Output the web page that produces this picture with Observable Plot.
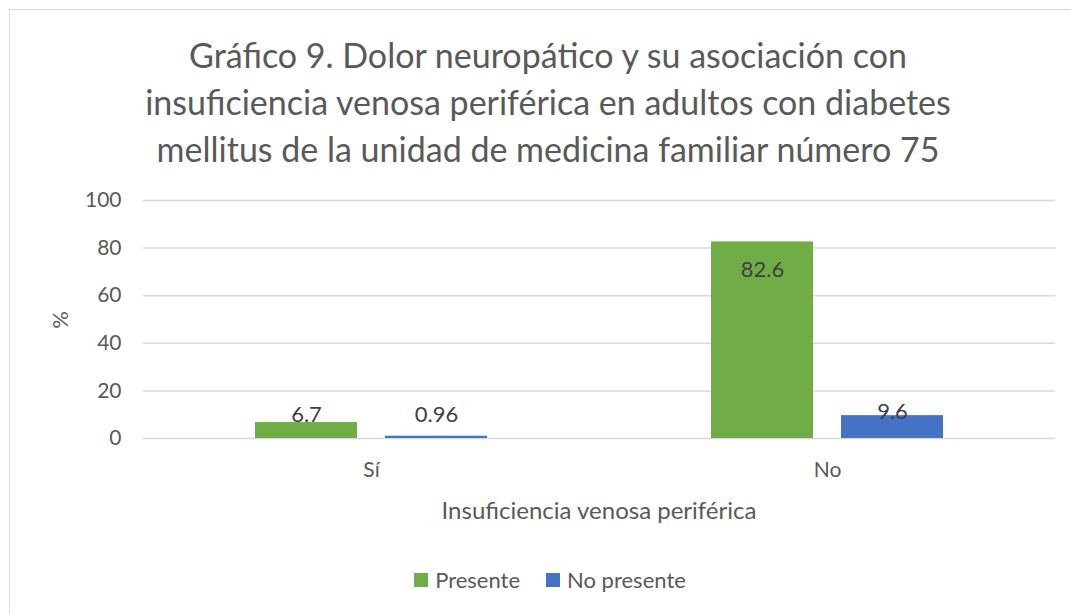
<!DOCTYPE html>
<html>
<head>
<meta charset="utf-8">
<script src="https://cdn.jsdelivr.net/npm/d3@7"></script>
<script src="https://cdn.jsdelivr.net/npm/@observablehq/plot@0.6"></script>
<style>
  html, body { margin: 0; padding: 0; background: #fff; overflow: hidden; width: 1071px; height: 614px; }
  body { font-family: Lato, "Open Sans", sans-serif; color: #595959; position: relative; }
  #frame { position: absolute; left: 9px; top: 9px; width: 1085px; height: 640px; border: 1.5px solid #d9d9d9; box-sizing: border-box; }
  #title { position: absolute; left: 0; top: 31px; width: 1096px; text-align: center; font-size: 34px; line-height: 47px; color: #595959; }
  #chart { position: absolute; left: 0; top: 180px; }
  #ylabel { position: absolute; left: 60px; top: 320px; transform: translate(-50%, -50%) rotate(-90deg); font-size: 22px; line-height: 26px; white-space: nowrap; }
  #xtitle { position: absolute; left: 142px; width: 914px; top: 495px; text-align: center; font-size: 24px; line-height: 30px; }
  #legend { position: absolute; left: 0; width: 1100px; top: 566px; display: flex; justify-content: center; font-size: 22px; line-height: 28px; }
  .item { display: inline-flex; align-items: center; margin: 0 13px; }
  .sw { width: 14px; height: 14px; display: inline-block; margin-right: 7px; }
</style>
</head>
<body>
<div id="frame"></div>
<div id="title">Gráfico 9. Dolor neuropático y su asociación con<br>insuficiencia venosa periférica en adultos con diabetes<br>mellitus de la unidad de medicina familiar número 75</div>
<div id="chart"></div>
<div id="ylabel">%</div>
<div id="xtitle">Insuficiencia venosa periférica</div>
<div id="legend"></div>
<script>
const categories = ["Sí", "No"];
const series = ["Presente", "No presente"];
const presente = [6.7, 82.6];
const noPresente = [0.96, 9.6];
const yTicks = [0, 20, 40, 60, 80, 100];
const colors = ["#70ad47", "#4472c4"];

const data = [];
categories.forEach((c, i) => {
  data.push({cat: c, serie: series[0], value: presente[i]});
  data.push({cat: c, serie: series[1], value: noPresente[i]});
});
const groupMax = c => d3.max(data.filter(d => d.cat === c), d => d.value);

const chart = Plot.plot({
  width: 1071,
  height: 320,
  marginLeft: 142,
  marginRight: 16,
  marginTop: 20,
  marginBottom: 62,
  style: {fontFamily: "Lato, sans-serif", fontSize: "21px", color: "#595959", background: "transparent", overflow: "visible"},
  fx: {domain: categories, padding: 0},
  x: {domain: series, paddingInner: 0.215, paddingOuter: 0.859, axis: null},
  y: {domain: [0, 100]},
  color: {domain: series, range: colors},
  marks: [
    Plot.gridY(yTicks, {stroke: "#d9d9d9", strokeOpacity: 1, strokeWidth: 1.5}),
    Plot.axisY(yTicks, {tickSize: 0, tickPadding: 22, label: null, fontSize: 21}),
    Plot.axisFx({anchor: "bottom", tickSize: 0, tickPadding: 24, label: null, fontSize: 21}),
    Plot.barY(data, {fx: "cat", x: "serie", y: "value", fill: "serie"}),
    Plot.text(data.filter(d => d.cat === "Sí"), {fx: "cat", x: "serie", y: d => groupMax(d.cat), text: d => String(d.value), dy: -8, lineAnchor: "middle", fill: "#404040", fontSize: 22}),
    Plot.text(data.filter(d => d.cat === "No" && d.serie === "Presente"), {fx: "cat", x: "serie", y: "value", text: d => String(d.value), dy: 28, lineAnchor: "middle", fill: "#404040", fontSize: 22}),
    Plot.text(data.filter(d => d.cat === "No" && d.serie === "No presente"), {fx: "cat", x: "serie", y: "value", text: d => String(d.value), dy: -4, lineAnchor: "middle", fill: "#404040", fontSize: 22})
  ]
});
document.getElementById("chart").appendChild(chart);

const legend = document.getElementById("legend");
series.forEach((s, i) => {
  const item = document.createElement("span");
  item.className = "item";
  const sw = document.createElement("span");
  sw.className = "sw";
  sw.style.background = colors[i];
  item.appendChild(sw);
  item.appendChild(document.createTextNode(s));
  legend.appendChild(item);
});
</script>
</body>
</html>
